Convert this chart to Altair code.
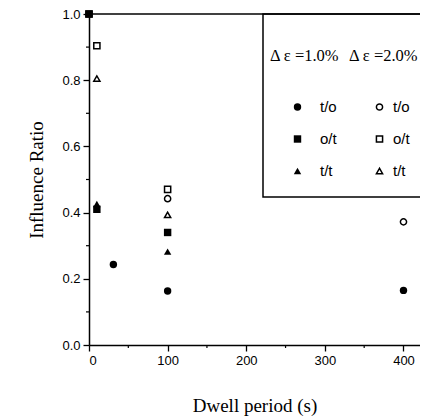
import altair as alt
import pandas as pd

# ---- data ----
kinds = ["t/o", "o/t", "t/t"]

# strain range 1.0 % (filled symbols)
x10_to = [31, 100, 400]
y10_to = [0.243, 0.163, 0.165]
x10_ot = [0, 10, 100]
y10_ot = [1.0, 0.41, 0.34]
x10_tt = [10, 100]
y10_tt = [0.426, 0.282]

# strain range 2.0 % (open symbols)
x20_to = [100, 400]
y20_to = [0.442, 0.372]
x20_ot = [0, 10, 100]
y20_ot = [1.0, 0.904, 0.47]
x20_tt = [10, 100]
y20_tt = [0.805, 0.393]

x_major = [0, 100, 200, 300, 400]
x_minor = [50, 150, 250, 350]
y_major = [0.0, 0.2, 0.4, 0.6, 0.8, 1.0]
y_minor = [0.1, 0.3, 0.5, 0.7, 0.9]


def frame(kind_xy):
    rows = []
    for k, xs, ys in kind_xy:
        for a, b in zip(xs, ys):
            rows.append({"kind": k, "x": a, "y": b})
    return pd.DataFrame(rows)


df10 = frame([("t/o", x10_to, y10_to), ("o/t", x10_ot, y10_ot), ("t/t", x10_tt, y10_tt)])
df20 = frame([("t/o", x20_to, y20_to), ("o/t", x20_ot, y20_ot), ("t/t", x20_tt, y20_tt)])

W, H = 331, 331
xscale = alt.Scale(domain=[0, 421], nice=False, zero=False)
yscale = alt.Scale(domain=[0, 1], nice=False)

xaxis = alt.Axis(values=x_major, format="d", title="Dwell period (s)", grid=False,
                 tickSize=6, tickWidth=1.3, tickColor="black",
                 domainColor="black", domainWidth=1.5,
                 labelFont="Liberation Sans", labelFontSize=13, labelColor="black",
                 labelPadding=3, titleFont="Liberation Serif", titleFontSize=19,
                 titleFontWeight="normal", titleColor="black", titlePadding=29)
yaxis = alt.Axis(values=y_major, format=".1f", title="Influence Ratio", grid=False,
                 tickSize=6, tickWidth=1.3, tickColor="black",
                 domainColor="black", domainWidth=1.5,
                 labelFont="Liberation Sans", labelFontSize=13, labelColor="black",
                 labelPadding=3, titleFont="Liberation Serif", titleFontSize=19,
                 titleFontWeight="normal", titleColor="black", titlePadding=15)

shape_range = ["circle", "square", "triangle-up"]


def legend(title, lx, offset, loff, size, fillc):
    return alt.Legend(title=title, orient="none", legendX=lx, legendY=34,
                      padding=0, titleFont="Liberation Serif", titleFontSize=16.5,
                      titleFontWeight="normal", titleColor="black", titlePadding=35,
                      titleAnchor="start", titleAlign="left",
                      labelFont="Liberation Sans", labelFontSize=15, labelColor="black",
                      symbolSize=size, symbolOffset=offset, labelOffset=loff,
                      rowPadding=16, symbolFillColor=fillc, symbolStrokeColor="black",
                      symbolStrokeWidth=1.5)


pts10 = alt.Chart(df10).mark_point(filled=True, color="black", size=55, opacity=1).encode(
    x=alt.X("x:Q", scale=xscale, axis=xaxis),
    y=alt.Y("y:Q", scale=yscale, axis=yaxis),
    shape=alt.Shape("kind:N", scale=alt.Scale(domain=kinds, range=shape_range),
                    legend=legend("Δ ε =1.0%", 181, 20, 15, 55, "black")),
)

pts20 = alt.Chart(df20).mark_point(filled=False, color="black", size=38, strokeWidth=1.5,
                                   opacity=1).encode(
    x=alt.X("x:Q", scale=xscale),
    y=alt.Y("y:Q", scale=yscale),
    shape=alt.Shape("kind:N", scale=alt.Scale(domain=kinds, range=shape_range),
                    legend=legend("Δ ε =2.0%", 260, 23, 6, 38, "white")),
)

top_line = alt.Chart(pd.DataFrame({"y": [1.0]})).mark_rule(
    color="black", strokeWidth=1.5).encode(y=alt.Y("y:Q", scale=yscale))

box = alt.Chart(pd.DataFrame({"a": [0]})).mark_rect(
    fillOpacity=0, stroke="black", strokeWidth=1.5).encode(
    x=alt.value(174), x2=alt.value(W + 10), y=alt.value(0), y2=alt.value(183))

xminor = alt.Chart(pd.DataFrame({"x": x_minor})).mark_rule(
    color="black", strokeWidth=1.2).encode(
    x=alt.X("x:Q", scale=xscale), y=alt.value(H), y2=alt.value(H + 3))

yminor = alt.Chart(pd.DataFrame({"y": y_minor})).mark_rule(
    color="black", strokeWidth=1.2).encode(
    y=alt.Y("y:Q", scale=yscale), x=alt.value(-3), x2=alt.value(0))

chart = alt.layer(top_line, box, xminor, yminor, pts10, pts20).resolve_scale(
    shape="independent").properties(
    width=W, height=H,
    padding={"left": 81, "top": 6, "right": 0, "bottom": 71},
    autosize=alt.AutoSizeParams(type="none"),
    background="white",
).configure_view(stroke=None)

chart.save("out.html", embed_options={"renderer": "svg", "actions": False})
